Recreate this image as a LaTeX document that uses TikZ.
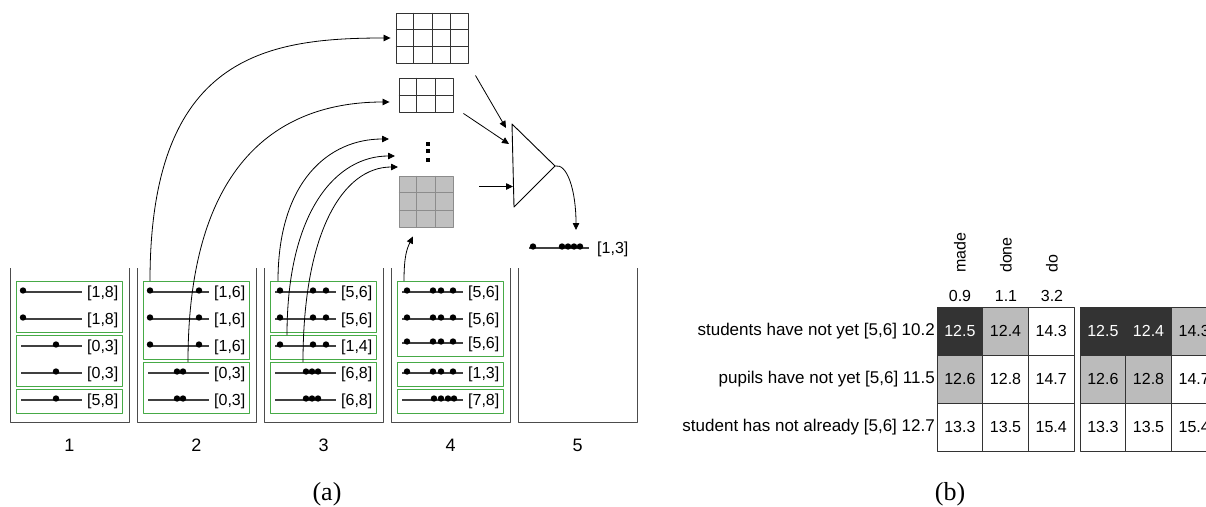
\documentclass[tikz,border=0pt]{standalone}
\usepackage{fontspec}
\setmainfont{Liberation Sans}
\newfontfamily\capfont{Liberation Serif}
\usetikzlibrary{arrows.meta,calc}
\definecolor{boxgreen}{RGB}{70,170,70}
\definecolor{cdark}{RGB}{51,51,51}
\definecolor{cgray}{RGB}{187,187,187}
\definecolor{gfill}{RGB}{192,192,192}
\begin{document}
\begin{tikzpicture}[x=1pt,y=-1pt,line join=round,>={Triangle[length=7pt,width=6.5pt]},
	font=\fontsize{16}{19}\selectfont,
	wall/.style={draw=black!70,line width=1pt},
	wline/.style={black!75,line width=1.1pt},
	wbox/.style={draw=boxgreen,line width=1pt},
	link/.style={->,line width=0.8pt},
	gridbox/.style={draw=black!80,line width=0.9pt,inner sep=0pt},
	cell/.style={draw=black!80,line width=0.9pt,minimum width=45.7pt,minimum height=48pt,inner sep=0pt}]
	\useasboundingbox (0,0) rectangle (1206,506);
	\clip (0,0) rectangle (1206,506);
	% bins
	\foreach \b in {1,...,5}{
		\pgfmathsetmacro{\bx}{10+127*(\b-1)}
		\draw[wall] (\bx,268) -- (\bx,422) -- (\bx+119,422) -- (\bx+119,268);
		\node (n\b) at (\bx+59.5,445) {\fontsize{18}{20}\selectfont\b};
	}
	% rows of words
	\foreach \b/\y/\dl/\lab [count=\k] in {1/292/{13}/{[1,8]},1/319/{13}/{[1,8]},1/346/{46}/{[0,3]},1/373/{46}/{[0,3]},1/400/{46}/{[5,8]},
		2/292/{13,62}/{[1,6]},2/319/{13,62}/{[1,6]},2/346/{13,62}/{[1,6]},2/373/{40,46}/{[0,3]},2/400/{40,46}/{[0,3]},
		3/292/{16,49,62}/{[5,6]},3/319/{16,49,62}/{[5,6]},3/346/{16,49,62}/{[1,4]},3/373/{42,48,54}/{[6,8]},3/400/{42,48,54}/{[6,8]},
		4/292/{16,42,50,62}/{[5,6]},4/319/{16,42,50,62}/{[5,6]},4/343/{16,42,50,62}/{[5,6]},4/373/{16,42,50,62}/{[1,3]},4/400/{43,50,57,63}/{[7,8]}}{
		\pgfmathsetmacro{\bx}{10+127*(\b-1)}
		\draw[wline] (\bx+11,\y) -- (\bx+72,\y);
		\foreach \d in \dl \fill (\bx+\d,\y-1.5) circle[radius=3.2pt];
		\node[anchor=west,inner sep=0pt] (w\k) at (\bx+77,\y+1) {\lab};
	}
	% green groups
	\foreach \b/\t/\u in {1/292/319,1/346/373,1/400/400,2/292/346,2/373/400,3/292/319,3/346/346,3/373/400,4/292/343,4/373/373,4/400/400}{
		\pgfmathsetmacro{\bx}{10+127*(\b-1)}
		\draw[wbox] (\bx+6,\t-11) rectangle (\bx+112,\u+13);
	}
	\coordinate (s1) at (150,281);
	\coordinate (s2) at (188,362);
	\coordinate (s3) at (278,281);
	\coordinate (s4) at (287,335);
	\coordinate (s5) at (303,362);
	\coordinate (s6) at (404,281);
	% grids
	\node[gridbox,minimum width=72pt,minimum height=50pt] (g1) at (432,38) {};
	\node[gridbox,minimum width=54pt,minimum height=34pt] (g2) at (426,95) {};
	\node[gridbox,fill=gfill,draw=black!45,minimum width=54pt,minimum height=51pt] (g3) at (426,201.5) {};
	\foreach \g/\nc/\nr/\col in {g1/4/3/black!80,g2/3/2/black!80,g3/3/3/black!45}{
		\pgfmathtruncatemacro{\mc}{\nc-1}
		\pgfmathtruncatemacro{\mr}{\nr-1}
		\foreach \i in {1,...,\mc}
			\draw[\col,line width=0.9pt] ($(\g.north west)!\i/\nc!(\g.north east)$) -- ($(\g.south west)!\i/\nc!(\g.south east)$);
		\foreach \i in {1,...,\mr}
			\draw[\col,line width=0.9pt] ($(\g.north west)!\i/\nr!(\g.south west)$) -- ($(\g.north east)!\i/\nr!(\g.south east)$);
	}
	\foreach \j in {143.7,151.2,159.5} \fill (426,\j-2) rectangle (430,\j+2);
	\coordinate (e3) at (389,139);
	\coordinate (e4) at (395,156);
	\coordinate (e5) at (398,167);
	\draw[link] (s1) .. controls +(0,-225) and +(-125,0) .. ([xshift=-5pt]g1.west);
	\draw[link] (s2) .. controls +(0,-200) and +(-110,0) .. ([xshift=-9pt,yshift=-7pt]g2.west);
	\draw[link] (s3) .. controls +(0,-100) and +(-60,0) .. (e3);
	\draw[link] (s4) .. controls +(0,-125) and +(-58,0) .. (e4);
	\draw[link] (s5) .. controls +(0,-130) and +(-55,0) .. (e5);
	\draw[link] (s6) .. controls +(0,-25) and +(-6,12) .. ([xshift=-13pt,yshift=-9pt]g3.south);
	% combiner
	\coordinate (ta) at (512,124);
	\coordinate (tb) at (514,207);
	\coordinate (tc) at (555,166);
	\draw[line width=0.9pt] (ta) -- (tb) -- (tc) -- cycle;
	\coordinate (p1) at (506,128);
	\coordinate (p2) at (509,144);
	\coordinate (p3) at (513,186.5);
	\draw[link] ([xshift=7pt,yshift=-12pt]g1.south east) -- (p1);
	\draw[link] ([xshift=10pt,yshift=-1pt]g2.south east) -- (p2);
	\draw[link] ([xshift=26pt,yshift=15pt]g3.east) -- (p3);
	\coordinate (o) at (576,230);
	\draw[link] (tc) .. controls +(12,-3) and +(0,-40) .. (o);
	\draw[wline] (529,248) -- (589,248);
	\foreach \d in {533,562,568,574,580} \fill (\d,246.5) circle[radius=3.2pt];
	\node[anchor=west,inner sep=0pt] (res) at (597,249) {[1,3]};
	% tables
	\foreach \w/\x [count=\c] in {made/960,done/1006,do/1052}{
		\node[rotate=90,anchor=west,inner sep=0pt] (h\c) at (\x,273) {\w};
	}
	\foreach \v/\x [count=\c] in {0.9/960,1.1/1006,3.2/1052}
		\node (q\c) at (\x,296) {\v};
	\foreach \lab [count=\r] in {{students have not yet [5,6] 10.2},{pupils have not yet [5,6] 11.5},{student has not already [5,6] 12.7}}
		\node[anchor=east,inner sep=0pt,font=\fontsize{17}{20}\selectfont] (r\r) at (935,283+48*\r) {\lab};
	\foreach \t/\x/\r/\c/\v/\f/\tc in {1/937/1/1/12.5/cdark/white,1/937/1/2/12.4/cgray/black,1/937/1/3/14.3/white/black,
		1/937/2/1/12.6/cgray/black,1/937/2/2/12.8/white/black,1/937/2/3/14.7/white/black,
		1/937/3/1/13.3/white/black,1/937/3/2/13.5/white/black,1/937/3/3/15.4/white/black,
		2/1080/1/1/12.5/cdark/white,2/1080/1/2/12.4/cdark/white,2/1080/1/3/14.3/cgray/black,
		2/1080/2/1/12.6/cgray/black,2/1080/2/2/12.8/cgray/black,2/1080/2/3/14.7/white/black,
		2/1080/3/1/13.3/white/black,2/1080/3/2/13.5/white/black,2/1080/3/3/15.4/white/black}
		\node[cell,fill=\f,text=\tc] (c\t\r\c) at (\x+45.7*\c-22.85,283+48*\r) {\v};
	\node[font=\capfont\fontsize{26}{28}\selectfont] (capa) at (327,494) {(a)};
	\node[font=\capfont\fontsize{26}{28}\selectfont] (capb) at (950,494) {(b)};
\end{tikzpicture}
\end{document}
